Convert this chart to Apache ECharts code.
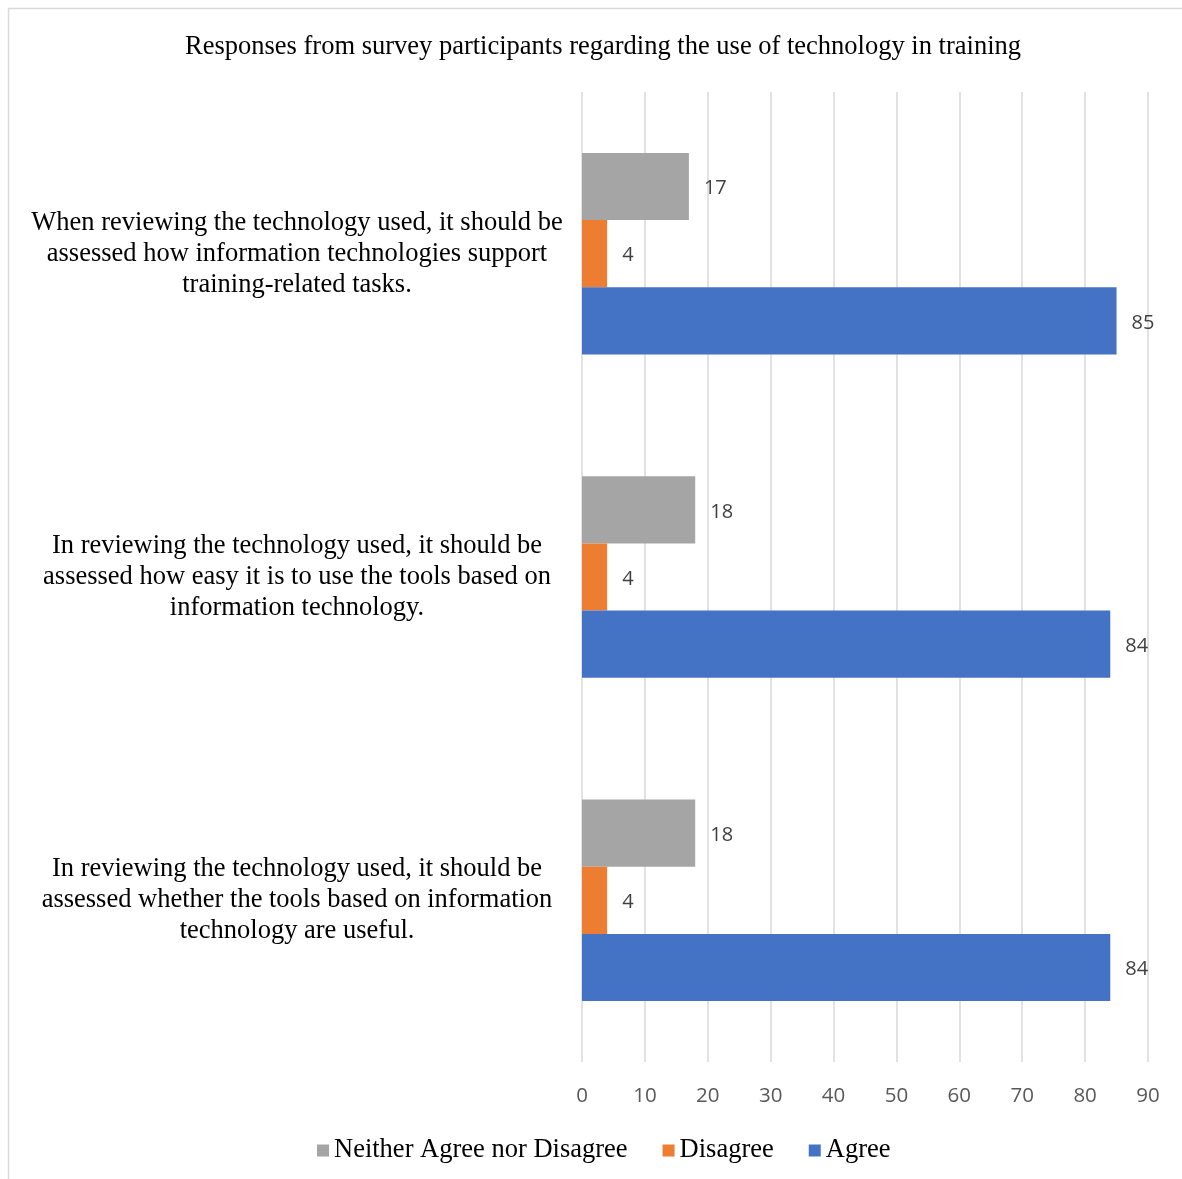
<!DOCTYPE html>
<html>
<head>
<meta charset="utf-8">
<script src="https://cdn.jsdelivr.net/npm/echarts@6/dist/echarts.min.js"></script>
<style>html,body{margin:0;padding:0;background:#fff;}#c{width:1182px;height:1179px;}</style>
</head>
<body>
<div id="c"></div>
<script>
const titleText = 'Responses from survey participants regarding the use of technology in training';
const categories = [
  'When reviewing the technology used, it should be\nassessed how information technologies support\ntraining-related tasks.',
  'In reviewing the technology used, it should be\nassessed how easy it is to use the tools based on\ninformation technology.',
  'In reviewing the technology used, it should be\nassessed whether the tools based on information\ntechnology are useful.'
];
const seriesNames = ['Neither Agree nor Disagree', 'Disagree', 'Agree'];
const neitherValues = [17, 18, 18];
const disagreeValues = [4, 4, 4];
const agreeValues = [85, 84, 84];
const xTicks = [0, 10, 20, 30, 40, 50, 60, 70, 80, 90];

const colors = ['#A5A5A5', '#ED7D31', '#4472C4'];
const serif = '"Liberation Serif", "Times New Roman", serif';
const sans = '"Open Sans", "Liberation Sans", sans-serif';

const chart = echarts.init(document.getElementById('c'), null, {renderer: 'canvas'});
const valueSets = [neitherValues, disagreeValues, agreeValues];
chart.setOption({
  animation: false,
  backgroundColor: '#fff',
  color: colors,
  graphic: [{
    type: 'rect', left: 6, top: 6, z: -1,
    shape: {width: 1200, height: 1200},
    style: {fill: 'none', stroke: '#d9d9d9', lineWidth: 1.5}
  }],
  title: {
    text: titleText, left: 598, top: 29, textAlign: 'center',
    textStyle: {fontFamily: serif, fontSize: 26.5, fontWeight: 'normal', color: '#000'}
  },
  legend: {
    data: seriesNames, left: 312, top: 1132, icon: 'rect',
    itemWidth: 12, itemHeight: 12, itemGap: 35,
    textStyle: {fontFamily: serif, fontSize: 26.5, color: '#000'}
  },
  grid: {left: 582, right: 34, top: 92, bottom: 117, containLabel: false},
  xAxis: {
    type: 'value', min: xTicks[0], max: xTicks[xTicks.length - 1], interval: 10,
    axisLine: {show: false}, axisTick: {show: false},
    splitLine: {lineStyle: {color: '#d9d9d9', width: 1.5}},
    axisLabel: {fontFamily: sans, fontSize: 20.5, color: '#595959', margin: 24}
  },
  yAxis: {
    type: 'category', data: categories, inverse: true,
    axisLine: {show: false}, axisTick: {show: false},
    axisLabel: {fontFamily: serif, fontSize: 26.5, color: '#000', align: 'center', margin: 285, lineHeight: 31, padding: [3, 0, 0, 0]}
  },
  series: seriesNames.map((n, i) => ({
    name: n, type: 'bar', data: valueSets[i],
    barGap: '0%', barCategoryGap: '37.7%',
    label: {show: true, position: 'right', distance: 15, offset: [0, 2], fontFamily: sans, fontSize: 20, color: '#404040'}
  }))
});
</script>
</body>
</html>
